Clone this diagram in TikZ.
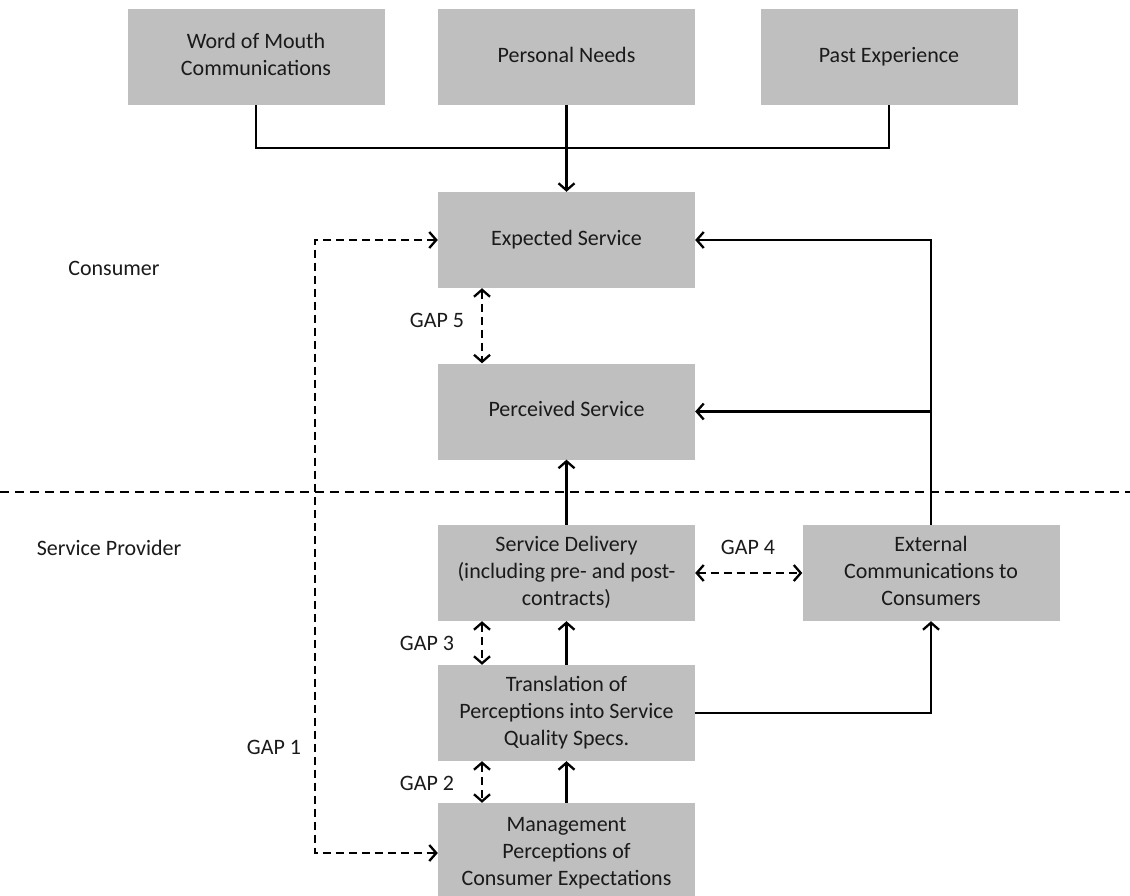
\documentclass[tikz,border=0pt]{standalone}
\usepackage{fontspec}
\setmainfont{Carlito}
\usetikzlibrary{arrows.meta}
\definecolor{boxgray}{HTML}{BFBFBF}
\definecolor{txt}{HTML}{1A1A1A}
\begin{document}
\begin{tikzpicture}[x=1pt,y=-1pt,
  box/.style={draw=none, fill=boxgray, minimum width=257pt, minimum height=96pt, inner sep=0pt, align=center, text=txt, font=\fontsize{22}{27}\selectfont},
  lbl/.style={text=txt, font=\fontsize{22}{27}\selectfont, inner sep=0pt},
  conn/.style={line width=2.3pt, -{Straight Barb[length=7pt,width=16pt,line width=2.3pt]}},
  plain/.style={line width=2.3pt},
  gapline/.style={line width=2.3pt, dash pattern=on 8pt off 5pt, {Straight Barb[length=7pt,width=16pt,line width=2.3pt]}-{Straight Barb[length=7pt,width=16pt,line width=2.3pt]}},
  divider/.style={line width=2.3pt, dash pattern=on 9pt off 6pt}]
\useasboundingbox (0,0) rectangle (1130,895);
% boxes
\node[box] (wom) at (256,57) {\strut Word of Mouth\\Communications\strut};
\node[box] (pn) at (566.5,57) {\strut Personal Needs};
\node[box] (pe) at (889,57) {\strut Past Experience};
\node[box] (es) at (566.5,240) {\strut Expected Service};
\node[box] (ps) at (566.5,411.5) {\strut Perceived Service};
\node[box] (sd) at (566.5,573) {\strut Service Delivery\\(including pre- and post-\\contracts)\strut};
\node[box] (ec) at (931,573) {\strut External\\Communications to\\Consumers\strut};
\node[box] (tr) at (566.5,713) {\strut Translation of\\Perceptions into Service\\Quality Specs.\strut};
\node[box, minimum height=100pt] (mg) at (566.5,853) {\strut Management\\Perceptions of\\Consumer Expectations\strut};
% side labels
\node[lbl] (consumer) at (114,268) {Consumer};
\node[lbl] (provider) at (109,548) {Service Provider};
\node[lbl] (gap1) at (274,747) {GAP 1};
\node[lbl] (gap2) at (427,783) {GAP 2};
\node[lbl] (gap3) at (427,643) {GAP 3};
\node[lbl] (gap4) at (748,547) {GAP 4};
\node[lbl] (gap5) at (437,320) {GAP 5};
% coordinates
\coordinate (join) at (566.5,148);
\coordinate (g1x) at (315,545);
\coordinate (divL) at (0,492);
\coordinate (divR) at (1130,492);
% top inputs
\draw[plain] (wom.south) |- (join) -| (pe.south);
\draw[conn] (pn.south) -- (es.north);
% divider
\draw[divider] (divL) -- (divR);
% gap 1
\draw[gapline] (es.west) -| (g1x) |- (mg.west);
% gap 5, 3, 2
\draw[gapline] ([xshift=-84.5pt]es.south) -- ([xshift=-84.5pt]ps.north);
\draw[gapline] ([xshift=-84.5pt]sd.south) -- ([xshift=-84.5pt]tr.north);
\draw[gapline] ([xshift=-84.5pt]tr.south) -- ([xshift=-84.5pt]mg.north);
% gap 4
\draw[gapline] (sd.east) -- (ec.west);
% solid flow
\draw[conn] (sd.north) -- (ps.south);
\draw[conn] (tr.north) -- (sd.south);
\draw[conn] (mg.north) -- (tr.south);
\draw[conn] (tr.east) -| (ec.south);
\draw[conn] (ec.north) |- (es.east);
\draw[conn] (ec.north) |- (ps.east);
\end{tikzpicture}
\end{document}
